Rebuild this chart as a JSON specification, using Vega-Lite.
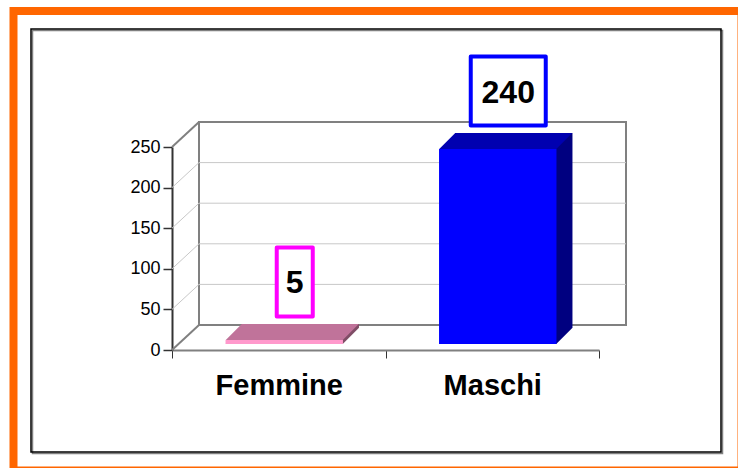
{
  "$schema": "https://vega.github.io/schema/vega-lite/v6.json",
  "width": 427,
  "height": 203,
  "autosize": {"type": "none"},
  "padding": {"left": 172, "top": 147, "right": 139, "bottom": 118},
  "background": "white",
  "config": {
    "view": {"stroke": null},
    "axisX": {
      "domainColor": "#808080", "domainWidth": 2,
      "tickColor": "#333333", "tickWidth": 1, "tickSize": 8, "tickBand": "extent",
      "labelFont": "Liberation Sans", "labelFontWeight": "bold", "labelFontSize": 29,
      "labelColor": "#000000", "labelPadding": 13, "labelAngle": 0, "grid": false
    },
    "axisY": {
      "domainColor": "#333333", "domainWidth": 2,
      "tickColor": "#333333", "tickWidth": 1.5, "tickSize": 9,
      "labelFont": "Liberation Sans", "labelFontSize": 18, "labelColor": "#000000",
      "labelPadding": 3, "grid": false
    }
  },
  "datasets": {
    "ticks": [{"t": 0}, {"t": 50}, {"t": 100}, {"t": 150}, {"t": 200}, {"t": 250}]
  },
  "data": {"values": [
    {"genere": "Femmine", "n": 5},
    {"genere": "Maschi", "n": 240}
  ]},
  "layer": [
    {
      "data": {"values": [{}]},
      "mark": {"type": "rect", "filled": false, "color": "#FF6600", "strokeWidth": 8,
               "xOffset": -158.5, "x2Offset": 142.5, "yOffset": -136, "y2Offset": 120.5},
      "encoding": {"x": {"value": 0}, "x2": {"value": "width"}, "y": {"value": 0}, "y2": {"value": "height"}}
    },
    {
      "data": {"values": [{}]},
      "mark": {"type": "rect", "filled": false, "color": "#808080", "strokeWidth": 1.5,
               "xOffset": -139.5, "x2Offset": 123.5, "yOffset": -116.5, "y2Offset": 103.5},
      "encoding": {"x": {"value": 0}, "x2": {"value": "width"}, "y": {"value": 0}, "y2": {"value": "height"}}
    },
    {
      "data": {"values": [{}]},
      "mark": {"type": "rect", "filled": false, "color": "#000000", "strokeWidth": 1.5,
               "xOffset": -141, "x2Offset": 122, "yOffset": -118, "y2Offset": 102},
      "encoding": {"x": {"value": 0}, "x2": {"value": "width"}, "y": {"value": 0}, "y2": {"value": "height"}}
    },
    {
      "data": {"values": [{}]},
      "mark": {"type": "rect", "filled": false, "color": "#808080", "strokeWidth": 2,
               "xOffset": 27, "x2Offset": 27, "yOffset": -25, "y2Offset": -25},
      "encoding": {
        "x": {"value": 0}, "x2": {"value": "width"},
        "y": {"datum": 250, "type": "quantitative", "scale": {"domain": [0, 250], "nice": false}, "title": null},
        "y2": {"datum": 0}
      }
    },
    {
      "data": {"name": "ticks"},
      "transform": [{"filter": "datum.t > 0 && datum.t < 250"}],
      "mark": {"type": "rule", "color": "#c8c8c8", "strokeWidth": 1,
               "xOffset": 27, "x2Offset": 27, "yOffset": -25},
      "encoding": {
        "x": {"value": 0}, "x2": {"value": "width"},
        "y": {"field": "t", "type": "quantitative", "scale": {"domain": [0, 250], "nice": false}, "title": null}
      }
    },
    {
      "data": {"name": "ticks"},
      "mark": {"type": "rule", "x2Offset": 27, "y2Offset": -25},
      "encoding": {
        "x": {"value": 0}, "x2": {"value": 0},
        "y": {"field": "t", "type": "quantitative", "scale": {"domain": [0, 250], "nice": false}, "title": null},
        "y2": {"field": "t"},
        "color": {"condition": {"test": "datum.t == 0 || datum.t == 250", "value": "#808080"}, "value": "#c8c8c8"},
        "strokeWidth": {"condition": {"test": "datum.t == 0 || datum.t == 250", "value": 2}, "value": 1}
      }
    },
    {
      "mark": {"type": "bar", "width": {"band": 0.55}, "xOffset": 21.5, "yOffset": -22, "y2Offset": -22},
      "encoding": {
        "x": {"field": "genere", "type": "nominal", "sort": null,
              "scale": {"type": "band", "paddingInner": 0, "paddingOuter": 0}, "title": null},
        "y": {"field": "n", "type": "quantitative", "scale": {"domain": [0, 250], "nice": false}, "title": null},
        "y2": {"datum": 0},
        "fill": {"field": "genere", "type": "nominal",
                 "scale": {"domain": ["Femmine", "Maschi"], "range": ["#7F4D66", "#000080"]}, "legend": null}
      }
    },
    {
      "mark": {"type": "point", "filled": true, "opacity": 1, "strokeWidth": 0, "size": 17689,
               "shape": "M-1,0.1203L0.7594,0.1203L1,-0.1203L-0.7594,-0.1203Z",
               "xOffset": 13.5, "yOffset": -14},
      "encoding": {
        "x": {"field": "genere", "type": "nominal", "sort": null, "title": null},
        "y": {"datum": 0, "type": "quantitative", "scale": {"domain": [0, 250], "nice": false}, "title": null},
        "fill": {"field": "genere", "type": "nominal",
                 "scale": {"domain": ["Femmine", "Maschi"], "range": ["#7F4D66", "#000080"]}, "legend": null}
      }
    },
    {
      "mark": {"type": "point", "filled": true, "opacity": 1, "strokeWidth": 0, "size": 17689,
               "shape": "M-1,0.1203L0.7594,0.1203L1,-0.1203L-0.7594,-0.1203Z",
               "xOffset": 13.5, "yOffset": -14},
      "encoding": {
        "x": {"field": "genere", "type": "nominal", "sort": null, "title": null},
        "y": {"field": "n", "type": "quantitative", "scale": {"domain": [0, 250], "nice": false}, "title": null},
        "fill": {"field": "genere", "type": "nominal",
                 "scale": {"domain": ["Femmine", "Maschi"], "range": ["#C0739A", "#0000B0"]}, "legend": null}
      }
    },
    {
      "mark": {"type": "bar", "width": {"band": 0.55}, "xOffset": 5.5, "yOffset": -6, "y2Offset": -6},
      "encoding": {
        "x": {"field": "genere", "type": "nominal", "sort": null, "title": null},
        "y": {"field": "n", "type": "quantitative", "scale": {"domain": [0, 250], "nice": false},
              "axis": {"values": [0, 50, 100, 150, 200, 250]}, "title": null},
        "y2": {"datum": 0},
        "fill": {"field": "genere", "type": "nominal",
                 "scale": {"domain": ["Femmine", "Maschi"], "range": ["#FF99CC", "#0000FF"]}, "legend": null}
      }
    },
    {
      "mark": {"type": "point", "filled": false, "fill": "white", "opacity": 1, "strokeWidth": 4,
               "strokeJoin": "round", "size": 4761, "xOffset": 16, "yOffset": -64},
      "encoding": {
        "x": {"field": "genere", "type": "nominal", "sort": null, "title": null},
        "y": {"field": "n", "type": "quantitative", "scale": {"domain": [0, 250], "nice": false}, "title": null},
        "shape": {"field": "genere", "type": "nominal",
                  "scale": {"domain": ["Femmine", "Maschi"],
                            "range": ["M-0.522,-1H0.522V1H-0.522Z", "M-1.087,-1H1.087V1H-1.087Z"]},
                  "legend": null},
        "stroke": {"field": "genere", "type": "nominal",
                   "scale": {"domain": ["Femmine", "Maschi"], "range": ["#FF00FF", "#0000FF"]}, "legend": null}
      }
    },
    {
      "mark": {"type": "text", "font": "Liberation Sans", "fontWeight": "bold", "fontSize": 32,
               "color": "#000000", "align": "center", "baseline": "alphabetic",
               "xOffset": 16, "yOffset": -52.5},
      "encoding": {
        "x": {"field": "genere", "type": "nominal", "sort": null, "title": null},
        "y": {"field": "n", "type": "quantitative", "scale": {"domain": [0, 250], "nice": false}, "title": null},
        "text": {"field": "n", "type": "quantitative"}
      }
    }
  ],
  "resolve": {"scale": {"fill": "independent", "stroke": "independent", "shape": "independent", "color": "independent"}}
}
